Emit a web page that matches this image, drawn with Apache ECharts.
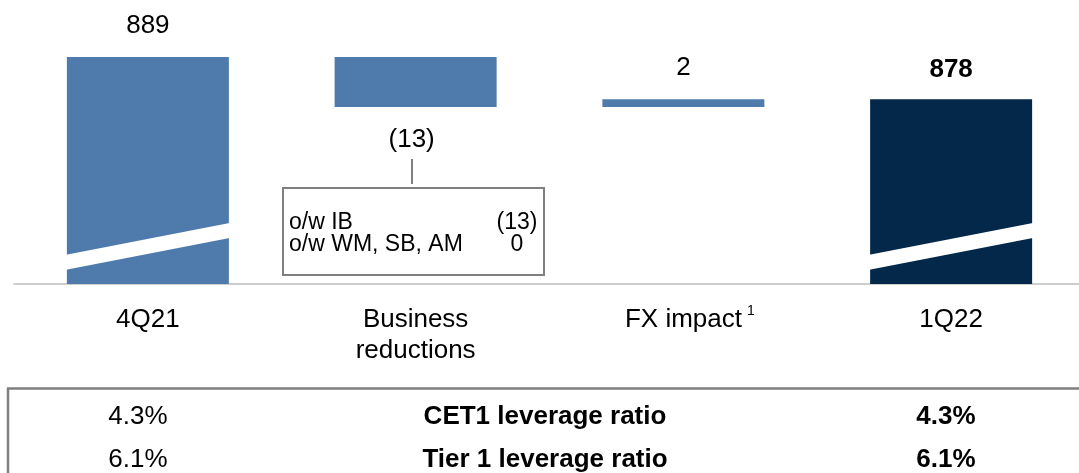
<!DOCTYPE html>
<html>
<head>
<meta charset="utf-8">
<script src="https://cdn.jsdelivr.net/npm/echarts@6/dist/echarts.min.js"></script>
<style>
html,body{margin:0;padding:0;background:#fff;}
#chart{width:1079px;height:473px;}
</style>
</head>
<body>
<div id="chart"></div>
<script>
// ---- data ----
const categories = ['4Q21', 'Business\nreductions', 'FX impact', '1Q22'];
const startValue = 889;
const changes = [-13, 2];
const endValue = 878;
const valueLabels = ['889', '(13)', '2', '878'];
const breakdownNames = ['o/w IB', 'o/w WM, SB, AM'];
const breakdownValues = ['(13)', '0'];
const ratioNames = ['CET1 leverage ratio', 'Tier 1 leverage ratio'];
const ratios4Q21 = ['4.3%', '6.1%'];
const ratios1Q22 = ['4.3%', '6.1%'];
const axisMin = 830;

// ---- build waterfall ----
const baseVals = [0];
const barVals = [startValue];
let running = startValue;
changes.forEach(function (c) {
  if (c < 0) { baseVals.push(running + c); barVals.push(-c); }
  else { baseVals.push(running); barVals.push(c); }
  running += c;
});
baseVals.push(0);
barVals.push(endValue);

const FONT = '"Liberation Sans", Arial, Helvetica, sans-serif';
const BLUE = '#4e7bab';
const NAVY = '#03284a';
const GREY = '#7f7f7f';

const barData = barVals.map(function (v, i) {
  const isNeg = (i > 0 && i < barVals.length - 1 && changes[i - 1] < 0);
  const isLast = i === barVals.length - 1;
  return {
    value: v,
    itemStyle: { color: isLast ? NAVY : BLUE },
    label: {
      show: true,
      formatter: valueLabels[i],
      position: isNeg ? 'bottom' : 'top',
      distance: isNeg ? 20 : (isLast ? 16 : 18),
      offset: isNeg ? [-4, 0] : [0, 0],
      fontWeight: isLast ? 'bold' : 'normal'
    }
  };
});

const chart = echarts.init(document.getElementById('chart'), null, { renderer: 'canvas' });

const textStyleBase = { fontFamily: FONT, fontSize: 26, fill: '#000' };

const graphics = [
  // callout connector and box
  { type: 'line', shape: { x1: 412, y1: 159, x2: 412, y2: 184 }, style: { stroke: GREY, lineWidth: 2 }, z: 10 },
  { type: 'rect', shape: { x: 283, y: 188, width: 261, height: 87 }, style: { fill: '#fff', stroke: GREY, lineWidth: 2 }, z: 10 },
  // table frame
  { type: 'line', shape: { x1: 7, y1: 388.5, x2: 1079, y2: 388.5 }, style: { stroke: GREY, lineWidth: 2.5 }, z: 10 },
  { type: 'line', shape: { x1: 8, y1: 388, x2: 8, y2: 473 }, style: { stroke: GREY, lineWidth: 2.5 }, z: 10 }
];
breakdownNames.forEach(function (n, i) {
  graphics.push({ type: 'text', x: 289, y: 222.5 + i * 22.5, z: 11,
    style: { text: n, fontFamily: FONT, fontSize: 23, fill: '#000', align: 'left', verticalAlign: 'middle' } });
  graphics.push({ type: 'text', x: 517, y: 222.5 + i * 22.5, z: 11,
    style: { text: breakdownValues[i], fontFamily: FONT, fontSize: 23, fill: '#000', align: 'center', verticalAlign: 'middle' } });
});
ratioNames.forEach(function (n, i) {
  const y = 416.5 + i * 43.5;
  graphics.push({ type: 'text', x: 138, y: y, z: 11,
    style: Object.assign({}, textStyleBase, { text: ratios4Q21[i], align: 'center', verticalAlign: 'middle' }) });
  graphics.push({ type: 'text', x: 545, y: y, z: 11,
    style: Object.assign({}, textStyleBase, { text: n, fontWeight: 'bold', align: 'center', verticalAlign: 'middle' }) });
  graphics.push({ type: 'text', x: 946, y: y, z: 11,
    style: Object.assign({}, textStyleBase, { text: ratios1Q22[i], fontWeight: 'bold', align: 'center', verticalAlign: 'middle' }) });
});

chart.setOption({
  animation: false,
  backgroundColor: '#fff',
  textStyle: { fontFamily: FONT },
  grid: { left: 14, width: 1071, top: 57, bottom: 189, containLabel: false, outerBoundsMode: 'none' },
  xAxis: {
    type: 'category',
    data: categories,
    axisTick: { show: false },
    axisLine: { show: true, lineStyle: { color: '#bfbfbf', width: 1.5 } },
    axisLabel: {
      color: '#000', fontSize: 26, fontFamily: FONT, lineHeight: 31, margin: 20,
      interval: 0,
      formatter: function (v) {
        if (v === 'FX impact') return '{pad|}' + v + '{sup|1}';
        return v;
      },
      rich: {
        pad: { width: 13 },
        sup: { fontSize: 14, lineHeight: 4, verticalAlign: 'top', padding: [0, 0, 0, 5], color: '#000', fontFamily: FONT }
      }
    },
    splitLine: { show: false }
  },
  yAxis: {
    type: 'value', min: axisMin, max: startValue, show: false, splitLine: { show: false }
  },
  series: [
    {
      type: 'bar', stack: 'wf', barWidth: 162, silent: true,
      itemStyle: { color: 'transparent' },
      data: baseVals
    },
    {
      type: 'bar', stack: 'wf', barWidth: 162,
      label: { color: '#000', fontSize: 26, fontFamily: FONT },
      data: barData
    },
    {
      type: 'custom',
      coordinateSystem: 'cartesian2d',
      clip: false,
      z: 5,
      data: [[0, axisMin], [categories.length - 1, axisMin]],
      renderItem: function (params, api) {
        const p = api.coord([api.value(0), axisMin]);
        const x0 = p[0] - 83, x1 = p[0] + 83, y = p[1];
        return {
          type: 'polygon',
          shape: { points: [[x0, y - 29], [x1, y - 61.2], [x1, y - 46.2], [x0, y - 14]] },
          style: { fill: '#fff' }
        };
      }
    }
  ],
  graphic: graphics
});
</script>
</body>
</html>
